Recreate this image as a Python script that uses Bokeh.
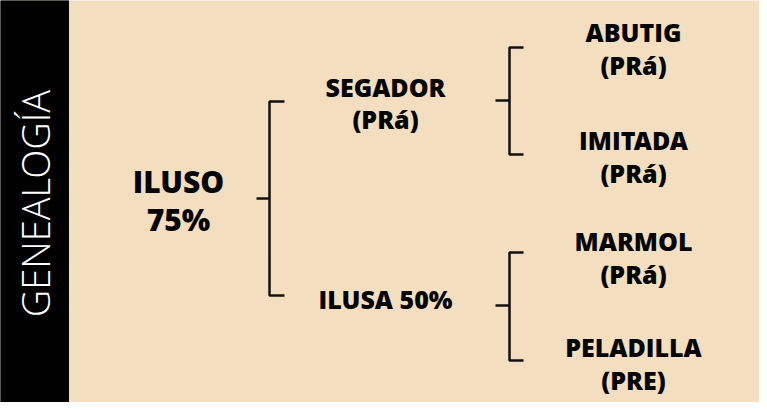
from bokeh.plotting import figure
from bokeh.models import Range1d
from bokeh.embed import file_html
from bokeh.resources import INLINE
from bokeh.core.properties import value
import math

# ---- data: genealogy tree ----
side_title = "GENEALOGÍA"
root_lines = ["ILUSO", "75%"]
parents = ["SEGADOR", "ILUSA 50%"]
parent_sub = ["(PRá)", ""]
grandparents = ["ABUTIG", "IMITADA", "MARMOL", "PELADILLA"]
grandparent_sub = ["(PRá)", "(PRá)", "(PRá)", "(PRE)"]

# ---- layout (page pixel coordinates) ----
W, H = 759, 402
X0, Y0 = 8, 8
col_x = [186, 393, 641]
root_y = 208
parent_y = [110, 306]
grand_y = [56, 164, 265, 371]
bracket = [  # stub start, vertical x, tick end
    (264, 277, 292),
    (503, 517, 531),
]
BEIGE = "#F4DEC0"

p = figure(width=W, height=H, output_backend="svg", toolbar_location=None,
           x_range=Range1d(X0, X0 + W), y_range=Range1d(Y0 + H, Y0),
           min_border=0)
p.axis.visible = False
p.grid.visible = False
p.outline_line_color = None
p.background_fill_color = BEIGE
p.border_fill_color = BEIGE

# black side band
p.quad(left=[X0], right=[76], top=[Y0], bottom=[Y0 + H], color="black")
p.text(x=[42], y=[211], text=[side_title], angle=math.pi / 2,
       text_align="center", text_baseline="middle", text_color="white",
       text_font=value("Open Sans Light"), text_font_size="38px")

BOLD = value("Open Sans ExtraBold")

def label(x, y, lines, size, gap):
    n = len(lines)
    ys = [y + (i - (n - 1) / 2) * gap for i in range(n)]
    p.text(x=[x] * n, y=ys, text=lines, text_align="center",
           text_baseline="middle", text_font=BOLD, text_font_style="bold",
           text_font_size=size, text_color="#050505")

# root
label(col_x[0], root_y, root_lines, "30px", 38)

# parents
for name, sub, y in zip(parents, parent_sub, parent_y):
    lines = [name, sub] if sub else [name]
    label(col_x[1], y, lines, "25px", 32)

# grandparents
for name, sub, y in zip(grandparents, grandparent_sub, grand_y):
    label(col_x[2], y, [name, sub], "25px", 33)

def draw_bracket(b, y_parent, y_a, y_b):
    s, v, e = b
    xs = [[s, v], [e, v, v, e]]
    ys = [[y_parent, y_parent], [y_a, y_a, y_b, y_b]]
    p.multi_line(xs=xs, ys=ys, line_color="#111111", line_width=2.5)

draw_bracket(bracket[0], 206, 109, 303)
draw_bracket(bracket[1], 108, 55, 162)
draw_bracket(bracket[1], 313, 260, 368)

open("out.html", "w").write(file_html(p, INLINE))
